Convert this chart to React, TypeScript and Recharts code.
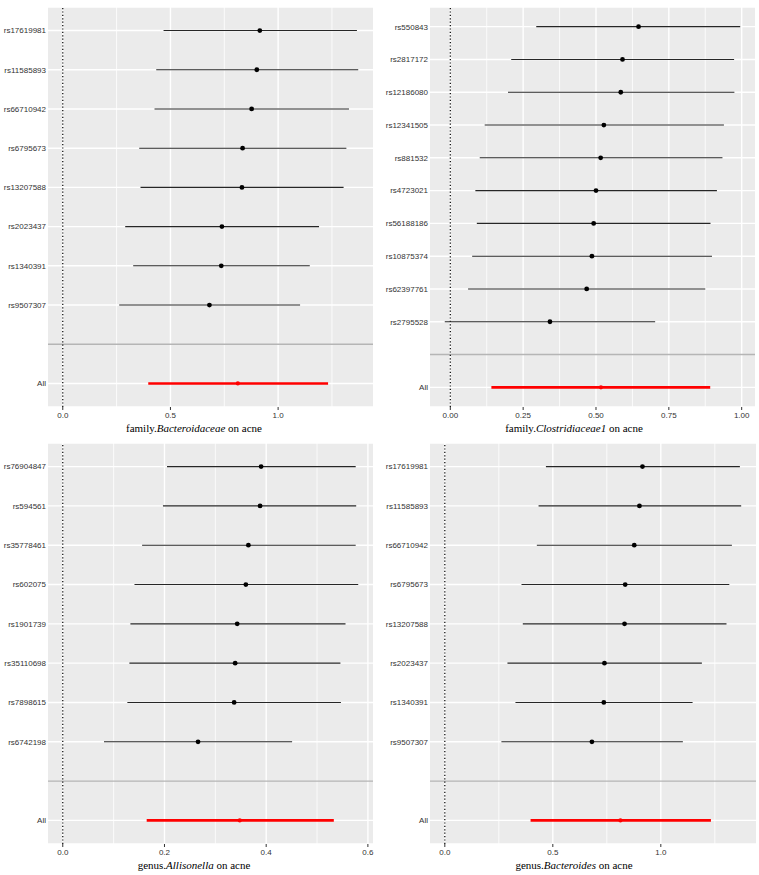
import React from 'react';
import {
    ScatterChart,
    Scatter,
    XAxis,
    YAxis,
    CartesianGrid,
    ReferenceLine,
    ErrorBar,
    Label
} from 'recharts';

// family.Bacteroidaceae (the genus.Bacteroides panel shows the same SNP estimates)
const bacteroSnps = ['rs17619981', 'rs11585893', 'rs66710942', 'rs6795673', 'rs13207588', 'rs2023437', 'rs1340391', 'rs9507307'];
const bacteroB = [0.915, 0.901, 0.877, 0.835, 0.832, 0.739, 0.736, 0.681];
const bacteroLo = [0.468, 0.434, 0.426, 0.355, 0.361, 0.29, 0.327, 0.262];
const bacteroHi = [1.366, 1.372, 1.329, 1.317, 1.304, 1.19, 1.147, 1.102];
const bacteroAll = [0.813, 0.397, 1.232]; // b, lo, hi

// family.Clostridiaceae1
const clostSnps = ['rs550843', 'rs2817172', 'rs12186080', 'rs12341505', 'rs881532', 'rs4723021', 'rs56188186', 'rs10875374', 'rs62397761', 'rs2795528'];
const clostB = [0.646, 0.591, 0.585, 0.527, 0.516, 0.5, 0.492, 0.486, 0.468, 0.342];
const clostLo = [0.295, 0.209, 0.198, 0.118, 0.101, 0.086, 0.091, 0.075, 0.061, -0.019];
const clostHi = [0.995, 0.974, 0.975, 0.939, 0.934, 0.915, 0.893, 0.898, 0.875, 0.703];
const clostAll = [0.517, 0.141, 0.892];

// genus.Allisonella
const alliSnps = ['rs76904847', 'rs594561', 'rs35778461', 'rs602075', 'rs1901739', 'rs35110698', 'rs7898615', 'rs6742198'];
const alliB = [0.39, 0.388, 0.365, 0.36, 0.343, 0.339, 0.337, 0.266];
const alliLo = [0.205, 0.197, 0.156, 0.141, 0.133, 0.131, 0.127, 0.081];
const alliHi = [0.576, 0.577, 0.576, 0.581, 0.556, 0.546, 0.547, 0.451];
const alliAll = [0.348, 0.165, 0.533];

const ticksHalf = [0, 0.5, 1];
const minorHalf = [0.25, 0.75, 1.25];
const ticksQuarter = [0, 0.25, 0.5, 0.75, 1];
const minorQuarter = [0.125, 0.375, 0.625, 0.875];
const ticksFifth = [0, 0.2, 0.4, 0.6];
const minorFifth = [0.1, 0.3, 0.5];

const sans = '"Liberation Sans", Arial, sans-serif';
const serif = '"Liberation Serif", "Times New Roman", serif';

interface ForestProps {
    snps: string[];
    b: number[];
    lo: number[];
    hi: number[];
    all: number[];
    ticks: number[];
    minor: number[];
    digits: number;
    prefix: string;
    taxon: string;
    width: number;
    height: number;
    yWidth: number;
    right: number;
}

function Forest({ snps, b, lo, hi, all, ticks, minor, digits, prefix, taxon, width, height, yWidth, right }: ForestProps) {
    const n = snps.length;
    // top row sits at n + 2, blank separator row at 2, "All" at 1
    const rows = snps.map((s, i) => ({ label: s, y: n + 2 - i, b: b[i], err: [b[i] - lo[i], hi[i] - b[i]] }));
    const allRow = [{ label: 'All', y: 1, b: all[0], err: [all[0] - all[1], all[2] - all[0]] }];
    const yTicks = [1, ...rows.map((r) => r.y).reverse()];

    const xMin = Math.min(0, ...lo);
    const xMax = Math.max(0, ...hi);
    const pad = (xMax - xMin) * 0.05;

    const labelFor = (v: number) => (v === 1 ? 'All' : rows.find((r) => r.y === v)?.label ?? '');

    return (
        <ScatterChart width={width} height={height} margin={{ top: 7, right, bottom: 0, left: 0 }}>
            <CartesianGrid fill="#ebebeb" stroke="#ffffff" strokeWidth={1.4} vertical={false} />
            {minor.map((v) => (
                <ReferenceLine key={'m' + v} x={v} stroke="#ffffff" strokeWidth={0.8} />
            ))}
            {ticks.map((v) => (
                <ReferenceLine key={'t' + v} x={v} stroke="#ffffff" strokeWidth={1.4} />
            ))}
            <ReferenceLine y={2} stroke="#b5b5b5" strokeWidth={1.4} />
            <ReferenceLine x={0} stroke="#000000" strokeWidth={1.2} strokeDasharray="1.2 2.2" />
            <XAxis
                type="number"
                dataKey="b"
                domain={[xMin - pad, xMax + pad]}
                ticks={ticks}
                allowDataOverflow
                tickFormatter={(v: number) => v.toFixed(digits)}
                axisLine={false}
                tickSize={3}
                tickMargin={2}
                tickLine={{ stroke: '#333333' }}
                tick={{ fontSize: 8, fill: '#333333', fontFamily: sans }}
                height={29}
            >
                <Label
                    content={(p: any) => (
                        <text
                            x={194}
                            y={p.viewBox.y + p.viewBox.height - 4}
                            textAnchor="middle"
                            fontSize={11}
                            fontFamily={serif}
                            fill="#000"
                        >
                            {prefix}
                            <tspan fontStyle="italic">{taxon}</tspan>
                            {' on acne'}
                        </text>
                    )}
                />
            </XAxis>
            <YAxis
                type="number"
                dataKey="y"
                domain={[0.4, n + 2.6]}
                ticks={yTicks}
                interval={0}
                tickFormatter={labelFor}
                axisLine={false}
                tickLine={false}
                tickSize={1}
                tickMargin={1}
                tick={{ fontSize: 8, fill: '#333333', fontFamily: sans }}
                width={yWidth}
            />
            <Scatter
                data={rows}
                isAnimationActive={false}
                shape={(p: any) => <circle cx={p.cx} cy={p.cy} r={2.4} fill="#000" />}
            >
                <ErrorBar dataKey="err" direction="x" width={0} stroke="#262626" strokeWidth={1.1} isAnimationActive={false} />
            </Scatter>
            <Scatter
                data={allRow}
                isAnimationActive={false}
                shape={(p: any) => <circle cx={p.cx} cy={p.cy} r={2.1} fill="#ff0000" />}
            >
                <ErrorBar dataKey="err" direction="x" width={0} stroke="#ff0000" strokeWidth={2.6} isAnimationActive={false} />
            </Scatter>
        </ScatterChart>
    );
}

export default function App() {
    return (
        <div style={{ position: 'absolute', left: 0, top: 0, width: 759, height: 875, background: '#fff' }}>
            <div style={{ position: 'absolute', left: 0, top: 0 }}>
                <Forest snps={bacteroSnps} b={bacteroB} lo={bacteroLo} hi={bacteroHi} all={bacteroAll}
                    ticks={ticksHalf} minor={minorHalf} digits={1} prefix="family." taxon="Bacteroidaceae"
                    width={378} height={436} yWidth={48} right={5} />
            </div>
            <div style={{ position: 'absolute', left: 380, top: 0 }}>
                <Forest snps={clostSnps} b={clostB} lo={clostLo} hi={clostHi} all={clostAll}
                    ticks={ticksQuarter} minor={minorQuarter} digits={2} prefix="family." taxon="Clostridiaceae1"
                    width={379} height={436} yWidth={50} right={4} />
            </div>
            <div style={{ position: 'absolute', left: 0, top: 436 }}>
                <Forest snps={alliSnps} b={alliB} lo={alliLo} hi={alliHi} all={alliAll}
                    ticks={ticksFifth} minor={minorFifth} digits={1} prefix="genus." taxon="Allisonella"
                    width={378} height={437} yWidth={48} right={5} />
            </div>
            <div style={{ position: 'absolute', left: 380, top: 436 }}>
                <Forest snps={bacteroSnps} b={bacteroB} lo={bacteroLo} hi={bacteroHi} all={bacteroAll}
                    ticks={ticksHalf} minor={minorHalf} digits={1} prefix="genus." taxon="Bacteroides"
                    width={379} height={437} yWidth={50} right={3} />
            </div>
        </div>
    );
}
